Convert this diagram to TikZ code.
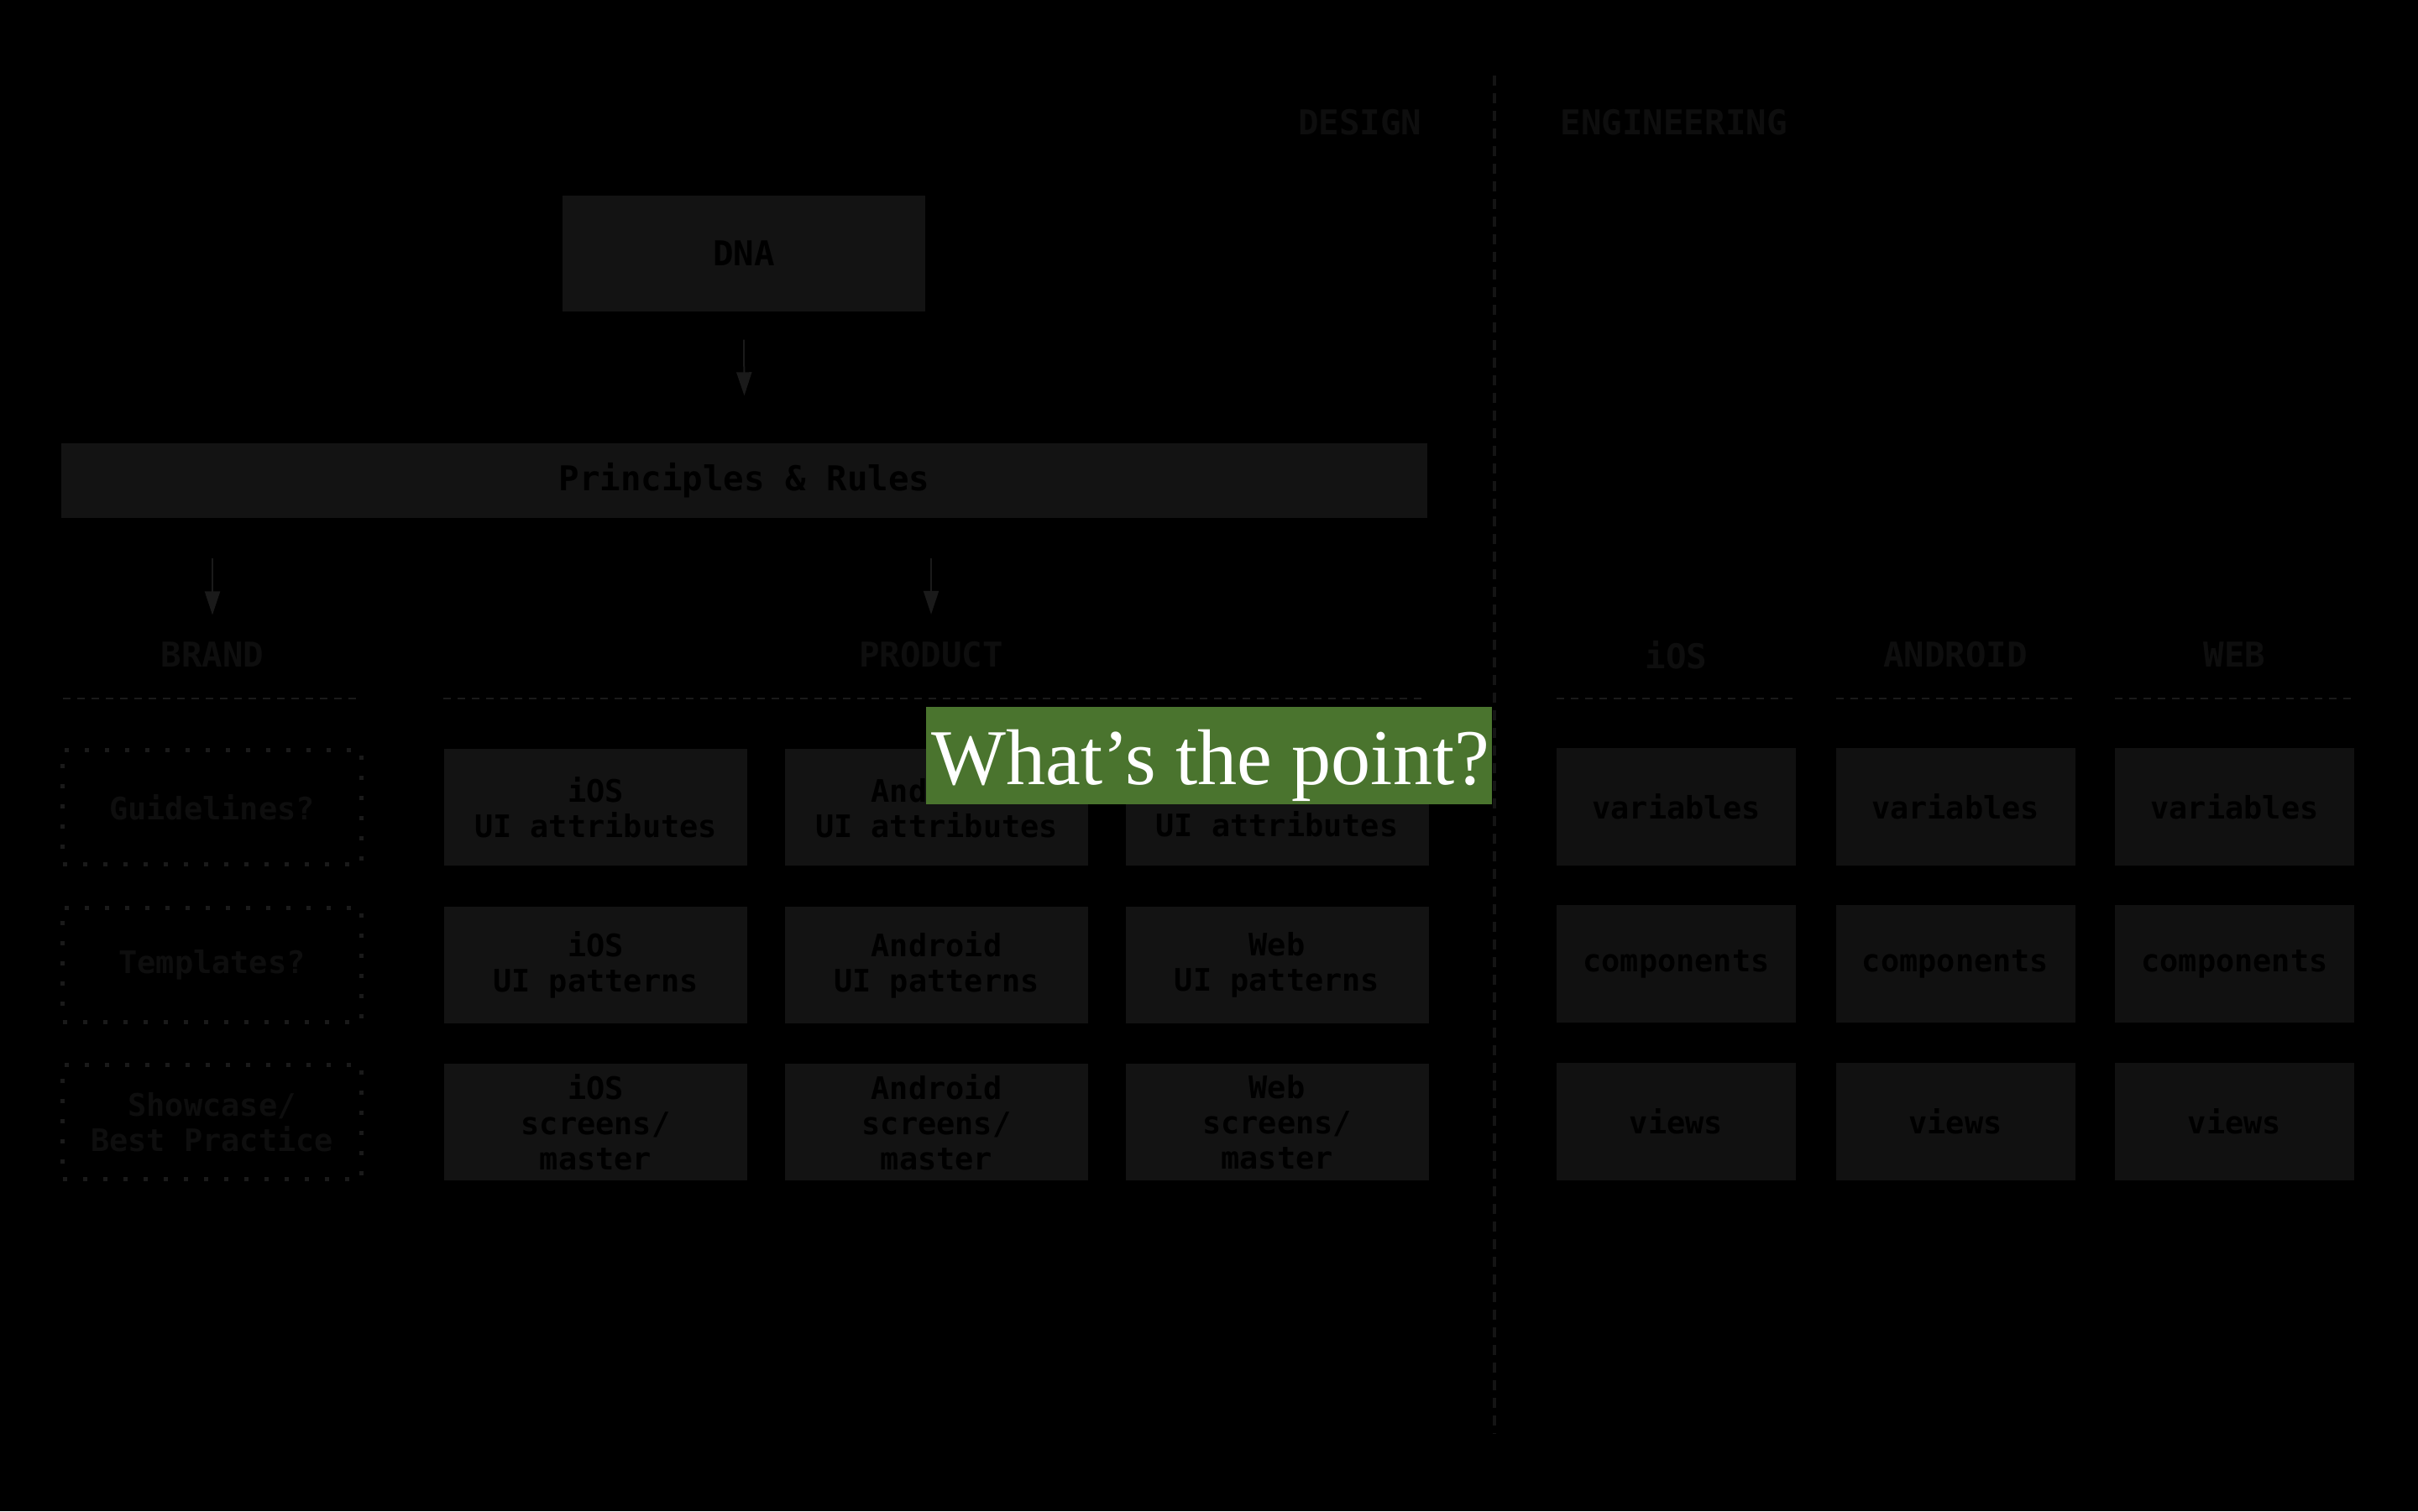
\documentclass[tikz,border=0pt]{standalone}
\usepackage{xcolor}
\usepackage{fontspec}
\setmonofont{DejaVu Sans Mono}
\newfontfamily\pointfont{Liberation Serif}
\usepackage{tikz}
\usetikzlibrary{positioning,arrows.meta}

\definecolor{boxgray}{HTML}{131313}
\definecolor{enggray}{HTML}{111111}
\definecolor{headgray}{HTML}{0E0E0E}
\definecolor{linegray}{HTML}{1A1A1A}
\definecolor{divgray}{HTML}{141414}
\definecolor{pointgreen}{HTML}{4A742E}

\begin{document}
\begin{tikzpicture}
\tikzstyle{sbox}=[fill=boxgray,minimum width=3.61cm,minimum height=1.39cm,inner sep=0pt,align=center,text=black,font=\ttfamily\bfseries\fontsize{10.5}{11.9}\selectfont]
\tikzstyle{ebox}=[sbox,fill=enggray,minimum width=2.85cm,minimum height=1.40cm]
\tikzstyle{dbox}=[sbox,fill=none,draw=linegray,line width=0.05cm,dash pattern=on 0.05cm off 0.19cm,text=headgray,minimum width=3.56cm,minimum height=1.36cm]
\tikzstyle{head}=[inner sep=0pt,text=headgray,font=\ttfamily\bfseries\fontsize{11.6}{13}\selectfont]
\tikzstyle{hline}=[draw=linegray,line width=0.025cm,dash pattern=on 0.09cm off 0.08cm]
\tikzstyle{arr}=[draw=linegray,line width=0.02cm,-{Triangle[length=0.28cm,width=0.18cm]}]

\fill[black] (0,0) rectangle (28.8,18);
\useasboundingbox (0,0) rectangle (28.8,18);

% design / engineering
\node[head,anchor=east] (design) at (16.94,16.54) {DESIGN};
\node[head,anchor=west] (eng) at (18.58,16.54) {ENGINEERING};
\draw[draw=divgray,line width=0.04cm,dash pattern=on 0.12cm off 0.09cm] (17.80,17.10) -- (17.80,0.92);

\node[sbox,minimum width=4.32cm,minimum height=1.38cm,font=\ttfamily\bfseries\fontsize{11.6}{13}\selectfont] (dna) at (8.86,14.98) {DNA};
\node[sbox,minimum width=16.27cm,minimum height=0.89cm,font=\ttfamily\bfseries\fontsize{11.6}{13}\selectfont] (rules) at (8.865,12.275) {Principles \& Rules};
\draw[arr] ([yshift=-0.33cm]dna.south) -- ([yshift=0.56cm]rules.north);

\node[head] (brand) at (2.53,10.20) {BRAND};
\node[head] (product) at (11.09,10.20) {PRODUCT};
\draw[arr] ([yshift=-0.47cm]rules.south -| brand.north) -- ([yshift=0.32cm]brand.north);
\draw[arr] ([yshift=-0.47cm]rules.south -| product.north) -- ([yshift=0.32cm]product.north);
\draw[hline] (0.75,9.68) -- (4.25,9.68);
\draw[hline] (5.28,9.68) -- (16.95,9.68);

\node[dbox] (guide) at (2.525,8.385) {Guidelines?};
\node[dbox] (templ) at (2.525,6.51) {Templates?};
\node[dbox] (show) at (2.525,4.635) {Showcase/\\Best Practice};

\foreach \n/\x/\p in {ios/7.095/iOS,andr/11.155/Android,web/15.21/Web}
{
    \node[sbox] (\n-attr) at (\x,8.385) {\p\\UI attributes};
    \node[sbox] (\n-pat) at (\x,6.51) {\p\\UI patterns};
    \node[sbox] (\n-scr) at (\x,4.635) {\p\\screens/\\master};
}

% engineering columns
\foreach \n/\x/\p in {eios/19.965/iOS,eandr/23.29/ANDROID,eweb/26.615/WEB}
{
    \node[head] (\n-head) at (\x,10.20) {\p};
    \draw[hline] (\x-1.425,9.68) -- (\x+1.425,9.68);
    \node[ebox] (\n-var) at (\x,8.39) {variables};
    \node[ebox] (\n-comp) at (\x,6.52) {components};
    \node[ebox] (\n-view) at (\x,4.64) {views};
}

\node[fill=pointgreen,minimum width=6.74cm,minimum height=1.16cm,inner sep=0pt] (point) at (14.40,9.00) {};
\node[anchor=base,inner sep=0pt,text=white,font=\pointfont\fontsize{26.8}{30}\selectfont] (pointtext) at (14.42,8.65) {What’s the point?};
\end{tikzpicture}
\end{document}
